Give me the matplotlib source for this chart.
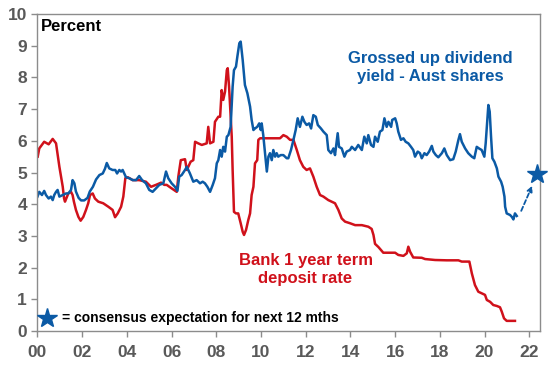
import matplotlib
matplotlib.use("Agg")
import matplotlib.pyplot as plt

plt.rcParams["font.family"] = ["Liberation Sans", "DejaVu Sans"]

# Gross dividend yield - Aust shares (%)
div_years = [2000.00, 2000.08, 2000.20, 2000.30, 2000.38, 2000.50, 2000.60, 2000.68, 2000.75,
             2000.83, 2000.90, 2000.98, 2001.13, 2001.28, 2001.38, 2001.50, 2001.57, 2001.65,
             2001.72, 2001.84, 2001.95, 2002.09, 2002.24, 2002.34, 2002.48, 2002.62, 2002.77,
             2002.92, 2003.02, 2003.10, 2003.21, 2003.36, 2003.48, 2003.56, 2003.66, 2003.74,
             2003.81, 2003.88, 2003.96, 2004.11, 2004.26, 2004.41, 2004.55, 2004.68, 2004.85,
             2005.00, 2005.15, 2005.30, 2005.45, 2005.63, 2005.75, 2005.85, 2006.00, 2006.15,
             2006.26, 2006.34, 2006.45, 2006.60, 2006.68, 2006.82, 2006.97, 2007.12, 2007.27,
             2007.39, 2007.49, 2007.60, 2007.72, 2007.84, 2007.94, 2008.02, 2008.09, 2008.17,
             2008.24, 2008.31, 2008.39, 2008.47, 2008.54, 2008.64, 2008.73, 2008.79, 2008.88,
             2008.94, 2009.03, 2009.09, 2009.18, 2009.28, 2009.39, 2009.51, 2009.58, 2009.66,
             2009.73, 2009.83, 2009.92, 2009.99, 2010.03, 2010.10, 2010.18, 2010.26, 2010.33,
             2010.40, 2010.48, 2010.55, 2010.63, 2010.70, 2010.77, 2010.88, 2011.00, 2011.15,
             2011.22, 2011.34, 2011.45, 2011.55, 2011.64, 2011.74, 2011.85, 2011.94, 2012.04,
             2012.15, 2012.24, 2012.34, 2012.45, 2012.54, 2012.68, 2012.79, 2012.94, 2013.01,
             2013.13, 2013.24, 2013.31, 2013.39, 2013.43, 2013.49, 2013.61, 2013.73, 2013.83,
             2013.98, 2014.06, 2014.21, 2014.35, 2014.51, 2014.62, 2014.73, 2014.80, 2014.92,
             2015.03, 2015.10, 2015.22, 2015.32, 2015.43, 2015.52, 2015.62, 2015.70, 2015.82,
             2015.87, 2016.00, 2016.07, 2016.14, 2016.26, 2016.37, 2016.47, 2016.59, 2016.71,
             2016.81, 2016.89, 2017.01, 2017.11, 2017.19, 2017.31, 2017.41, 2017.52, 2017.64,
             2017.71, 2017.82, 2017.93, 2018.09, 2018.20, 2018.31, 2018.46, 2018.60, 2018.71,
             2018.83, 2018.90, 2018.98, 2019.13, 2019.27, 2019.43, 2019.54, 2019.65, 2019.75,
             2019.87, 2019.99, 2020.05, 2020.11, 2020.17, 2020.23, 2020.29, 2020.35, 2020.44,
             2020.55, 2020.62, 2020.74, 2020.81, 2020.89, 2020.92, 2020.99, 2021.14, 2021.22,
             2021.29, 2021.36, 2021.44]
div_yield = [4.24, 4.39, 4.29, 4.42, 4.29, 4.18, 4.24, 4.13, 4.29,
             4.39, 4.45, 4.24, 4.29, 4.34, 4.34, 4.45, 4.76, 4.66,
             4.40, 4.20, 4.12, 4.12, 4.20, 4.40, 4.55, 4.78, 4.92,
             4.97, 5.12, 5.30, 5.13, 5.08, 5.08, 4.97, 5.08, 5.03,
             5.08, 4.97, 4.85, 4.82, 4.76, 4.76, 4.89, 4.76, 4.66,
             4.45, 4.39, 4.50, 4.61, 4.66, 5.03, 4.82, 4.66, 4.55,
             4.42, 4.87, 4.92, 5.08, 5.18, 4.97, 4.71, 4.76, 4.66,
             4.71, 4.66, 4.55, 4.39, 4.61, 4.82, 5.29, 5.39, 5.71,
             5.50, 5.81, 5.66, 6.13, 6.18, 6.44, 7.71, 8.23, 8.34,
             8.65, 9.08, 9.13, 8.55, 7.76, 7.50, 7.08, 6.66, 6.34,
             6.39, 6.44, 6.55, 6.34, 6.55, 6.18, 5.61, 5.03, 5.50,
             5.61, 5.39, 5.71, 5.50, 5.61, 5.50, 5.55, 5.55, 5.45,
             5.45, 5.71, 6.03, 6.34, 6.71, 6.44, 6.76, 6.60, 6.50,
             6.55, 6.39, 6.81, 6.76, 6.50, 6.39, 6.29, 6.18, 5.71,
             5.61, 5.76, 5.55, 6.03, 6.24, 5.81, 5.76, 5.50, 5.66,
             5.71, 5.81, 5.71, 5.87, 5.71, 6.13, 5.92, 6.18, 5.87,
             5.81, 6.13, 5.97, 6.29, 6.34, 6.71, 6.44, 6.60, 6.44,
             6.66, 6.71, 6.55, 6.29, 6.03, 6.08, 5.97, 5.92, 5.81,
             5.71, 5.50, 5.66, 5.61, 5.45, 5.61, 5.55, 5.66, 5.84,
             5.66, 5.55, 5.48, 5.61, 5.76, 5.55, 5.39, 5.42, 5.66,
             6.03, 6.21, 5.97, 5.76, 5.61, 5.50, 5.45, 5.81, 5.76,
             5.71, 5.50, 5.92, 6.55, 7.13, 6.92, 6.13, 5.45, 5.34,
             5.13, 4.87, 4.71, 4.55, 4.24, 3.92, 3.71, 3.66, 3.60,
             3.52, 3.71, 3.63]

# Bank 1 year term deposit rate (%)
td_years = [2000.01, 2000.08, 2000.30, 2000.50, 2000.68, 2000.83, 2000.98, 2001.13, 2001.19,
            2001.23, 2001.31, 2001.38, 2001.50, 2001.57, 2001.63, 2001.72, 2001.83, 2001.93,
            2002.05, 2002.17, 2002.27, 2002.35, 2002.47, 2002.57, 2002.72, 2002.94, 2003.17,
            2003.36, 2003.47, 2003.59, 2003.74, 2003.84, 2003.93, 2004.04, 2004.26, 2004.55,
            2004.85, 2005.08, 2005.30, 2005.53, 2005.67, 2005.78, 2006.00, 2006.23, 2006.30,
            2006.41, 2006.60, 2006.68, 2006.85, 2006.97, 2007.05, 2007.19, 2007.35, 2007.57,
            2007.64, 2007.72, 2007.87, 2007.94, 2008.09, 2008.17, 2008.24, 2008.31, 2008.39,
            2008.47, 2008.51, 2008.57, 2008.61, 2008.69, 2008.73, 2008.79, 2008.88, 2008.98,
            2009.09, 2009.18, 2009.24, 2009.33, 2009.43, 2009.51, 2009.58, 2009.66, 2009.73,
            2009.83, 2009.88, 2009.96, 2010.26, 2010.55, 2010.85, 2011.00, 2011.15, 2011.30,
            2011.45, 2011.60, 2011.74, 2011.89, 2012.04, 2012.19, 2012.34, 2012.49, 2012.64,
            2012.79, 2013.01, 2013.31, 2013.46, 2013.61, 2013.76, 2013.98, 2014.21, 2014.51,
            2014.80, 2014.95, 2015.03, 2015.10, 2015.25, 2015.47, 2015.77, 2016.00, 2016.14,
            2016.37, 2016.52, 2016.59, 2016.67, 2016.81, 2017.19, 2017.34, 2017.79, 2018.31,
            2018.83, 2018.98, 2019.32, 2019.43, 2019.57, 2019.72, 2019.87, 2020.02, 2020.10,
            2020.25, 2020.39, 2020.55, 2020.69, 2020.77, 2020.87, 2020.99, 2021.36]
td_rate = [5.50, 5.76, 5.97, 5.89, 6.06, 5.92, 5.18, 4.55, 4.18,
           4.08, 4.22, 4.34, 4.39, 4.29, 4.08, 3.82, 3.60, 3.48,
           3.60, 3.82, 4.03, 4.29, 4.34, 4.18, 4.08, 4.03, 3.92,
           3.82, 3.59, 3.71, 3.92, 4.24, 4.82, 4.85, 4.76, 4.76,
           4.71, 4.55, 4.61, 4.68, 4.61, 4.61, 4.50, 4.39, 4.87,
           5.39, 5.42, 5.08, 5.34, 5.39, 5.97, 5.92, 5.87, 5.92,
           6.44, 5.92, 5.97, 6.60, 6.76, 6.76, 7.60, 7.29, 7.55,
           8.23, 8.29, 7.71, 7.18, 6.13, 5.08, 3.76, 3.71, 3.71,
           3.40, 3.13, 3.03, 3.19, 3.50, 3.71, 4.29, 4.55, 5.29,
           5.39, 6.03, 6.08, 6.08, 6.08, 6.08, 6.18, 6.13, 6.03,
           6.03, 5.71, 5.39, 5.18, 5.08, 5.13, 4.87, 4.55, 4.29,
           4.24, 4.13, 4.03, 3.82, 3.55, 3.45, 3.40, 3.34, 3.34,
           3.29, 3.22, 3.03, 2.75, 2.65, 2.47, 2.47, 2.47, 2.40,
           2.37, 2.45, 2.66, 2.50, 2.32, 2.31, 2.27, 2.24, 2.23,
           2.23, 2.19, 2.19, 1.82, 1.45, 1.24, 1.19, 1.14, 0.98,
           0.92, 0.82, 0.79, 0.75, 0.61, 0.40, 0.32, 0.32]

# consensus expectation
exp_year = 2022.34
exp_value = 4.95
arrow_from = (2021.59, 3.71)
arrow_to = (2022.18, 4.66)

x_ticks = [2000, 2002, 2004, 2006, 2008, 2010, 2012, 2014, 2016, 2018, 2020, 2022]
x_labels = ["00", "02", "04", "06", "08", "10", "12", "14", "16", "18", "20", "22"]
y_ticks = list(range(0, 11))

BLUE = "#0b5aa5"
RED = "#d0111b"
GREY = "#595959"


def main():
    fig = plt.figure(figsize=(5.48, 3.66), dpi=100)
    ax = fig.add_axes([0.0684, 0.0956, 0.9170, 0.8661])

    ax.plot(td_years, td_rate, color=RED, linewidth=1.8)
    ax.plot(div_years, div_yield, color=BLUE, linewidth=1.8)

    # dashed arrow to the consensus star
    ax.annotate("", xy=arrow_to, xytext=arrow_from,
                arrowprops=dict(arrowstyle="-|>", color=BLUE, linestyle=(0, (2.5, 1.5)),
                                linewidth=1.3, mutation_scale=8))
    ax.plot([exp_year], [exp_value], marker="*", color=BLUE, markersize=15,
            clip_on=False, zorder=5)

    ax.set_xlim(2000, 2022.48)
    ax.set_ylim(0, 10)
    ax.set_xticks(x_ticks)
    ax.set_xticklabels(x_labels)
    ax.set_yticks(y_ticks)

    for s in ax.spines.values():
        s.set_color("#8c8c8c")
        s.set_linewidth(1.0)
    ax.tick_params(axis="both", colors="#8c8c8c", length=4, width=1.0,
                   labelcolor=GREY, labelsize=12.5)
    ax.tick_params(axis="x", pad=6)
    for lab in ax.get_xticklabels() + ax.get_yticklabels():
        lab.set_fontweight("bold")

    # texts
    ax.text(0.006, 0.962, "Percent", transform=ax.transAxes, fontsize=12,
            fontweight="bold", color="black", ha="left", va="center")
    ax.text(2017.56, 8.31, "Grossed up dividend\nyield - Aust shares", color=BLUE,
            fontsize=12, fontweight="bold", ha="center", va="center", linespacing=1.25)
    ax.text(2011.99, 1.94, "Bank 1 year term\ndeposit rate", color=RED,
            fontsize=12, fontweight="bold", ha="center", va="center", linespacing=1.25)

    ax.plot([2000.43], [0.41], marker="*", color=BLUE, markersize=15, zorder=5)
    ax.text(2001.10, 0.41, "= consensus expectation for next 12 mths", color="black",
            fontsize=10, fontweight="bold", ha="left", va="center")

    fig.savefig("out.png", dpi=100)


if __name__ == "__main__":
    main()
